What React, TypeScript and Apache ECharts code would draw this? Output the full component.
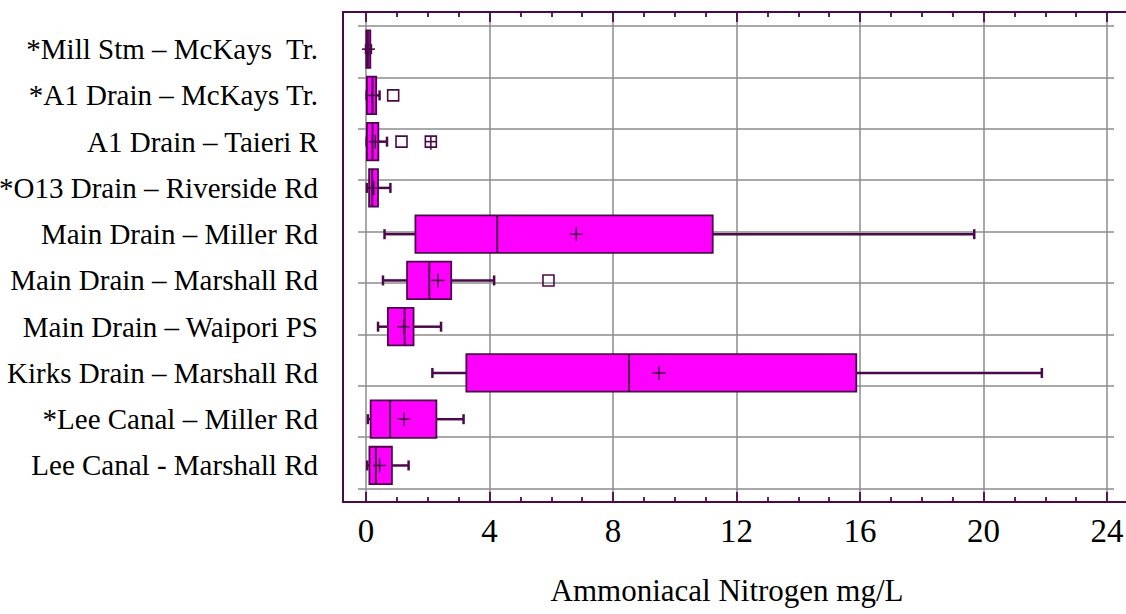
import React, { useEffect, useRef } from 'react';
import * as echarts from 'echarts';

// Sampling sites, listed top to bottom
const categories = [
  '*Mill Stm – McKays  Tr.',
  '*A1 Drain – McKays Tr.',
  'A1 Drain – Taieri R',
  '*O13 Drain – Riverside Rd',
  'Main Drain – Miller Rd',
  'Main Drain – Marshall Rd',
  'Main Drain – Waipori PS',
  'Kirks Drain – Marshall Rd',
  '*Lee Canal – Miller Rd',
  'Lee Canal - Marshall Rd',
];

// Box-and-whisker statistics (mg/L)
const whiskerLow = [0.0, 0.02, 0.02, 0.03, 0.6, 0.55, 0.39, 2.15, 0.06, 0.04];
const quartile1 = [0.01, 0.03, 0.03, 0.1, 1.6, 1.33, 0.71, 3.25, 0.15, 0.11];
const medians = [0.06, 0.21, 0.21, 0.2, 4.25, 2.05, 1.25, 8.52, 0.78, 0.32];
const quartile3 = [0.14, 0.33, 0.4, 0.39, 11.23, 2.76, 1.54, 15.88, 2.28, 0.84];
const whiskerHigh = [0.16, 0.44, 0.68, 0.79, 19.7, 4.15, 2.43, 21.89, 3.16, 1.38];
const means = [0.08, 0.2, 0.3, 0.25, 6.81, 2.33, 1.22, 9.49, 1.23, 0.44];

// Outliers: [site index, value]
const outliers = [
  [1, 0.88],
  [2, 1.15],
  [5, 5.91],
];
// Far outliers: [site index, value]
const farOutliers = [[2, 2.1]];

const xTicks = [0, 4, 8, 12, 16, 20, 24];
const xTitle = 'Ammoniacal Nitrogen mg/L';

const DARK = '#4a0a4a';
const FILL = '#ff00ff';
const GRID_GRAY = '#8c8c8c';
const FONT = "'Liberation Serif', 'Times New Roman', serif";

export default function App() {
  const ref = useRef<HTMLDivElement>(null);

  useEffect(() => {
    const chart = echarts.init(ref.current!, undefined, { renderer: 'svg' });

    const boxData = categories.map((_, i) => [
      i,
      whiskerLow[i],
      quartile1[i],
      medians[i],
      quartile3[i],
      whiskerHigh[i],
      means[i],
    ]);

    const boxRender = (_params: any, api: any) => {
      const idx = api.value(0);
      const lo = api.value(1);
      const a = api.value(2);
      const m = api.value(3);
      const b = api.value(4);
      const hi = api.value(5);
      const mu = api.value(6);
      const band = api.size([0, 1])[1];
      const h = band * 0.81;
      const cy = api.coord([0, idx])[1];
      const X = (v: number) => api.coord([v, idx])[0];
      const cap = 5;
      const arm = 6.5;
      const lineStyle = { stroke: DARK, lineWidth: 2.5 };
      return {
        type: 'group',
        children: [
          { type: 'line', shape: { x1: X(lo), y1: cy, x2: X(a), y2: cy }, style: lineStyle },
          { type: 'line', shape: { x1: X(b), y1: cy, x2: X(hi), y2: cy }, style: lineStyle },
          { type: 'line', shape: { x1: X(lo), y1: cy - cap, x2: X(lo), y2: cy + cap }, style: lineStyle },
          { type: 'line', shape: { x1: X(hi), y1: cy - cap, x2: X(hi), y2: cy + cap }, style: lineStyle },
          {
            type: 'rect',
            shape: { x: X(a), y: cy - h / 2, width: X(b) - X(a), height: h },
            style: { fill: FILL, stroke: DARK, lineWidth: 1.8 },
          },
          {
            type: 'line',
            shape: { x1: X(m), y1: cy - h / 2, x2: X(m), y2: cy + h / 2 },
            style: { stroke: DARK, lineWidth: 2 },
          },
          { type: 'line', shape: { x1: X(mu) - arm, y1: cy, x2: X(mu) + arm, y2: cy }, style: { stroke: DARK, lineWidth: 1.6 } },
          { type: 'line', shape: { x1: X(mu), y1: cy - arm - 0.5, x2: X(mu), y2: cy + arm + 0.5 }, style: { stroke: DARK, lineWidth: 1.6 } },
        ],
      };
    };

    const squareRender = (withCross: boolean) => (_params: any, api: any) => {
      const idx = api.value(0);
      const [px, py] = api.coord([api.value(1), idx]);
      const s = 5.5;
      const children: any[] = [
        {
          type: 'rect',
          shape: { x: px - s, y: py - s, width: 2 * s, height: 2 * s },
          style: { fill: 'rgba(0,0,0,0)', stroke: DARK, lineWidth: 1.6 },
        },
      ];
      if (withCross) {
        children.push(
          { type: 'line', shape: { x1: px - s, y1: py, x2: px + s, y2: py }, style: { stroke: DARK, lineWidth: 1.6 } },
          { type: 'line', shape: { x1: px, y1: py - s, x2: px, y2: py + s + 2.5 }, style: { stroke: DARK, lineWidth: 1.6 } },
        );
      }
      return { type: 'group', children };
    };

    const tickStyle = {
      axisLine: { show: false },
      axisTick: { show: true, inside: true, length: 10, lineStyle: { color: DARK, width: 1.8 } },
      minorTick: { show: true, splitNumber: 4, length: 5, lineStyle: { color: DARK, width: 1.8 } },
    };

    chart.setOption({
      animation: false,
      backgroundColor: '#ffffff',
      grid: [
        { left: 366, right: 19, top: 12, bottom: 112, outerBoundsMode: 'none', containLabel: false },
        { left: 358, right: 12, top: 26, bottom: 125.4, outerBoundsMode: 'none', containLabel: false },
        { left: 366, right: 19, top: 26, bottom: 125.4, outerBoundsMode: 'none', containLabel: false },
      ],
      xAxis: [
        {
          gridIndex: 0,
          type: 'value',
          position: 'bottom',
          min: xTicks[0],
          max: xTicks[xTicks.length - 1],
          interval: 4,
          ...tickStyle,
          splitLine: { show: true, lineStyle: { color: GRID_GRAY, width: 1.5 } },
          axisLabel: { fontFamily: FONT, fontSize: 33, color: '#000', margin: 12 },
        },
        {
          gridIndex: 0,
          type: 'value',
          position: 'top',
          min: xTicks[0],
          max: xTicks[xTicks.length - 1],
          interval: 4,
          ...tickStyle,
          splitLine: { show: false },
          axisLabel: { show: false },
        },
        { gridIndex: 1, type: 'value', min: 0, max: 1, show: false },
        { gridIndex: 2, type: 'value', min: xTicks[0], max: xTicks[xTicks.length - 1], show: false },
      ],
      yAxis: [
        { gridIndex: 0, type: 'value', min: 0, max: 1, show: false },
        {
          gridIndex: 1,
          type: 'value',
          min: 0,
          max: 9,
          interval: 1,
          axisLine: { show: false },
          axisTick: { show: false },
          axisLabel: { show: false },
          splitLine: { show: true, lineStyle: { color: GRID_GRAY, width: 1.5 } },
        },
        {
          gridIndex: 2,
          type: 'category',
          inverse: true,
          data: categories,
          axisLine: { show: false },
          axisTick: { show: false },
          splitLine: { show: false },
          axisLabel: { fontFamily: FONT, fontSize: 29, color: '#000', margin: 48 },
        },
      ],
      graphic: [
        {
          type: 'rect',
          silent: true,
          z: 10,
          shape: { x: 343, y: 12, width: 900, height: 490 },
          style: { fill: 'none', stroke: DARK, lineWidth: 2 },
        },
        {
          type: 'text',
          silent: true,
          x: 727,
          y: 590,
          style: {
            text: xTitle,
            fontFamily: FONT,
            fontSize: 31,
            fill: '#000',
            align: 'center',
            verticalAlign: 'middle',
          },
        },
      ],
      series: [
        {
          type: 'custom',
          xAxisIndex: 3,
          yAxisIndex: 2,
          data: boxData,
          encode: { x: [1, 2, 3, 4, 5, 6], y: 0 },
          renderItem: boxRender,
          z: 3,
        },
        {
          type: 'custom',
          xAxisIndex: 3,
          yAxisIndex: 2,
          data: outliers,
          encode: { x: 1, y: 0 },
          renderItem: squareRender(false),
          z: 4,
        },
        {
          type: 'custom',
          xAxisIndex: 3,
          yAxisIndex: 2,
          data: farOutliers,
          encode: { x: 1, y: 0 },
          renderItem: squareRender(true),
          z: 4,
        },
      ],
    });

    return () => chart.dispose();
  }, []);

  return (
    <div
      ref={ref}
      style={{ position: 'fixed', left: 0, top: 0, width: 1126, height: 614, background: '#fff' }}
    />
  );
}
